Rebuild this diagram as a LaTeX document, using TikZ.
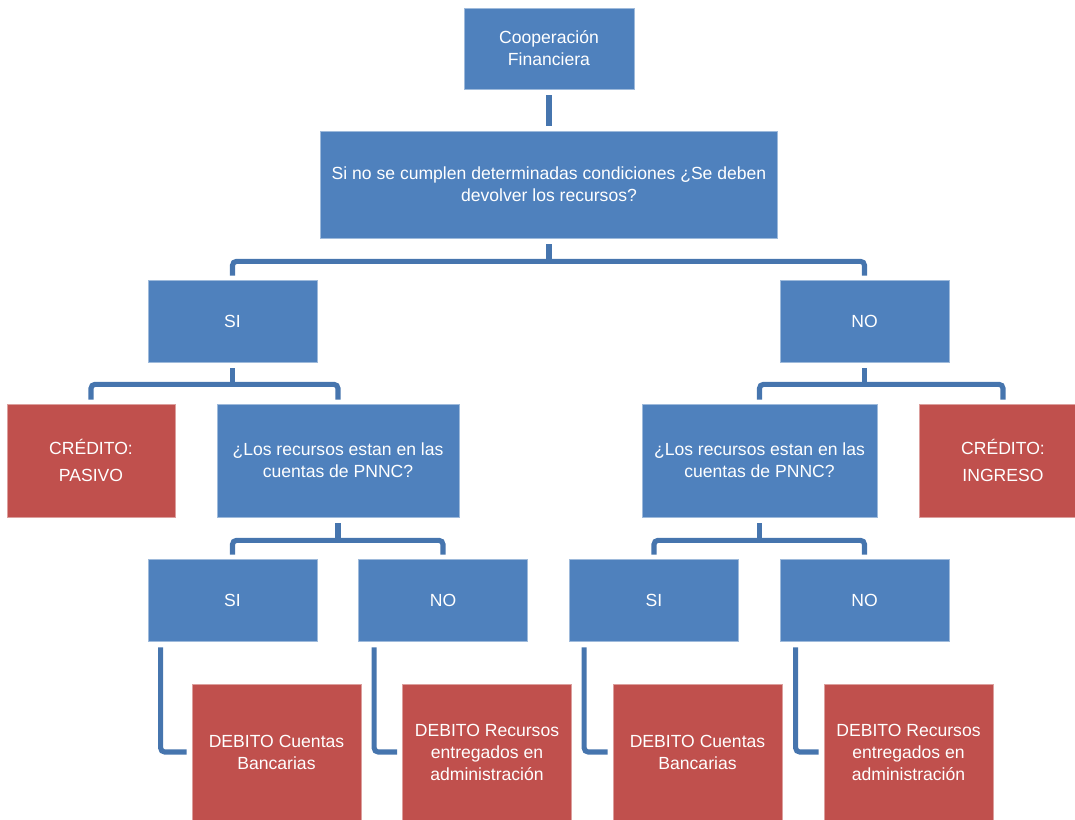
\documentclass[tikz,border=0pt]{standalone}
\usepackage{fontspec}
\setmainfont{Liberation Sans}
\usepackage{xcolor}
\definecolor{cazul}{HTML}{4F81BD}
\definecolor{crojo}{HTML}{C0504D}
\definecolor{clinea}{HTML}{4675AE}
\usepackage{tikz}
\usetikzlibrary{arrows.meta, positioning, calc}

\tikzset{
  caja/.style={rectangle, fill=cazul, draw=cazul!55!white, line width=0.4pt,
    text=white, align=center, inner sep=2pt,
    font=\fontsize{10}{12.5}\selectfont},
  cajaroja/.style={caja, fill=crojo, draw=crojo!55!white},
  conector/.style={draw=clinea, line width=2.9pt, rounded corners=0.08cm}
}

\begin{document}
\begin{tikzpicture}[x=0.02cm, y=-0.02cm]
  \useasboundingbox (0,0) rectangle (1075,819);
  % Nivel superior
  \node[caja, minimum width=3.4cm, minimum height=1.62cm] (coop) at (549,48.5) {Cooperación\\Financiera};
  \node[caja, minimum width=9.14cm, minimum height=2.14cm] (preg) at (549,184.5)
    {Si no se cumplen determinadas condiciones ¿Se deben\\devolver los recursos?};
  % SI / NO
  \node[caja, minimum width=3.38cm, minimum height=1.64cm] (si) at (232.5,321) {SI};
  \node[caja, minimum width=3.38cm, minimum height=1.64cm] (no) at (864.5,321) {NO};
  % Segundo nivel
  \node[cajaroja, minimum width=3.36cm, minimum height=2.26cm] (credp) at (91,460.5) {CRÉDITO:\\[3pt]PASIVO};
  \node[caja, minimum width=4.84cm, minimum height=2.26cm] (recl) at (338,460.5) {¿Los recursos estan en las\\cuentas de PNNC?};
  \node[caja, minimum width=4.7cm, minimum height=2.26cm] (recr) at (759.5,460.5) {¿Los recursos estan en las\\cuentas de PNNC?};
  \node[cajaroja, minimum width=3.36cm, minimum height=2.26cm] (credi) at (1003,460.5) {CRÉDITO:\\[3pt]INGRESO};
  % Tercer nivel
  \node[caja, minimum width=3.38cm, minimum height=1.64cm] (sil) at (232.5,600) {SI};
  \node[caja, minimum width=3.38cm, minimum height=1.64cm] (nol) at (443,600) {NO};
  \node[caja, minimum width=3.38cm, minimum height=1.64cm] (sir) at (654,600) {SI};
  \node[caja, minimum width=3.38cm, minimum height=1.64cm] (nor) at (864.5,600) {NO};
  % Debitos
  \node[cajaroja, minimum width=3.38cm, minimum height=2.72cm] (deb1) at (276.5,752) {DEBITO Cuentas\\Bancarias};
  \node[cajaroja, minimum width=3.38cm, minimum height=2.72cm] (deb2) at (487,752) {DEBITO Recursos\\entregados en\\administración};
  \node[cajaroja, minimum width=3.38cm, minimum height=2.72cm] (deb3) at (697.5,752) {DEBITO Cuentas\\Bancarias};
  \node[cajaroja, minimum width=3.38cm, minimum height=2.72cm] (deb4) at (908.5,752) {DEBITO Recursos\\entregados en\\administración};

  % Conectores
  \draw[conector] ([yshift=-0.12cm]coop.south) -- ([yshift=0.1cm]preg.north);
  \coordinate (m1) at ($(preg.south)+(0,23)$);
  \draw[conector] ([yshift=-0.12cm]preg.south) -- (m1);
  \draw[conector] ([yshift=0.08cm]si.north) |- (m1) -| ([yshift=0.08cm]no.north);
  \coordinate (m2) at ($(si.south)+(0,22)$);
  \draw[conector] ([yshift=-0.12cm]si.south) -- (m2);
  \draw[conector] ([yshift=0.08cm]credp.north) |- (m2) -| ([yshift=0.08cm]recl.north);
  \coordinate (m3) at ($(no.south)+(0,22)$);
  \draw[conector] ([yshift=-0.12cm]no.south) -- (m3);
  \draw[conector] ([yshift=0.08cm]recr.north) |- (m3) -| ([yshift=0.08cm]credi.north);
  \coordinate (m4) at ($(recl.south)+(0,23)$);
  \draw[conector] ([yshift=-0.12cm]recl.south) -- (m4);
  \draw[conector] ([yshift=0.08cm]sil.north) |- (m4) -| ([yshift=0.08cm]nol.north);
  \coordinate (m5) at ($(recr.south)+(0,23)$);
  \draw[conector] ([yshift=-0.12cm]recr.south) -- (m5);
  \draw[conector] ([yshift=0.08cm]sir.north) |- (m5) -| ([yshift=0.08cm]nor.north);
  % Codos hacia los debitos
  \draw[conector] ([xshift=0.26cm,yshift=-0.12cm]sil.south west) |- ([xshift=-0.1cm]deb1.west);
  \draw[conector] ([xshift=0.32cm,yshift=-0.12cm]nol.south west) |- ([xshift=-0.1cm]deb2.west);
  \draw[conector] ([xshift=0.3cm,yshift=-0.12cm]sir.south west) |- ([xshift=-0.1cm]deb3.west);
  \draw[conector] ([xshift=0.32cm,yshift=-0.12cm]nor.south west) |- ([xshift=-0.1cm]deb4.west);
\end{tikzpicture}
\end{document}
